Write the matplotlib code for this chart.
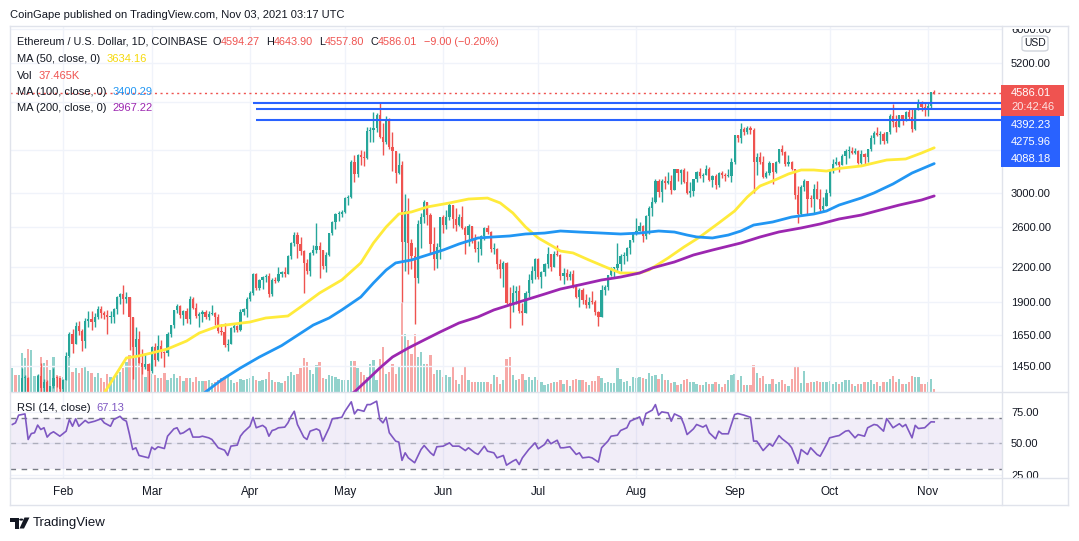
import numpy as np
import pandas as pd
import matplotlib
matplotlib.use("Agg")
import matplotlib.pyplot as plt
import matplotlib.dates as mdates
from matplotlib.patches import Rectangle, FancyBboxPatch, Polygon, Circle
from matplotlib.lines import Line2D
from matplotlib.ticker import NullLocator

# ---- daily ETH/USD (Coinbase), 2021-01-16 .. 2021-11-03 ----
start_date = "2021-01-16"
first_open = 1171.0
close = [
    1233, 1230, 1256, 1377, 1381, 1120, 1233, 1234, 1391, 1324, 1357, 1253, 1331, 1380, 1378, 1314,  # Jan
    1369, 1515, 1660, 1594, 1718, 1677, 1614, 1750, 1769, 1744, 1783, 1842, 1813, 1801, 1780, 1782,
    1847, 1937, 1960, 1920, 1935, 1780, 1570, 1626, 1470, 1446, 1460, 1417,  # Feb
    1570, 1490, 1575, 1540, 1533, 1660, 1722, 1834, 1870, 1795, 1825, 1770, 1923, 1855, 1792, 1805,
    1824, 1779, 1808, 1810, 1780, 1680, 1670, 1582, 1590, 1702, 1715, 1690, 1818, 1846, 1920,  # Mar
    1970, 2134, 2010, 2080, 2110, 2117, 1960, 2085, 2070, 2140, 2155, 2140, 2300, 2430, 2515, 2420,
    2350, 2235, 2160, 2330, 2360, 2400, 2360, 2210, 2310, 2535, 2660, 2750, 2755, 2775,  # Apr
    2945, 2950, 3430, 3250, 3525, 3490, 3480, 3900, 3910, 3950, 4170, 3810, 3720, 4080, 3640, 3590,
    3270, 3380, 2440, 2780, 2430, 2300, 2100, 2640, 2710, 2890, 2740, 2420, 2280, 2390, 2710,  # May
    2630, 2710, 2860, 2690, 2630, 2710, 2590, 2515, 2610, 2470, 2370, 2370, 2510, 2590, 2550, 2370,
    2370, 2230, 2180, 2240, 1890, 1875, 1970, 1990, 1830, 1815, 1975, 2080, 2160, 2275,  # Jun
    2110, 2150, 2225, 2320, 2200, 2325, 2315, 2115, 2145, 2110, 2140, 2035, 1940, 1995, 1915, 1875,
    1900, 1895, 1820, 1785, 1995, 2025, 2125, 2190, 2190, 2230, 2300, 2300, 2380, 2460, 2535,  # Jul
    2555, 2610, 2505, 2725, 2825, 2890, 3155, 3015, 3165, 3140, 3165, 3045, 3320, 3265, 3310, 3145,
    3010, 3030, 3180, 3285, 3225, 3240, 3320, 3170, 3230, 3110, 3270, 3245, 3225, 3225, 3430,  # Aug
    3830, 3790, 3940, 3890, 3950, 3925, 3430, 3495, 3425, 3210, 3265, 3410, 3285, 3430, 3610, 3570,
    3400, 3430, 3330, 2975, 2750, 3080, 3155, 2930, 2925, 3060, 2930, 2810, 2850, 3000,  # Sep
    3310, 3390, 3420, 3385, 3515, 3580, 3590, 3560, 3580, 3410, 3545, 3490, 3610, 3790, 3870, 3830,
    3850, 3745, 3880, 4160, 4055, 3970, 4170, 4085, 4220, 4130, 3930, 4290, 4415, 4320, 4290,  # Oct
    4325, 4594.27, 4586.01,  # Nov
]
high = [
    1260, 1260, 1260, 1440, 1395, 1385, 1250, 1260, 1400, 1470, 1370, 1365, 1335, 1440, 1390, 1380,
    1375, 1540, 1670, 1695, 1743, 1755, 1698, 1775, 1825, 1827, 1815, 1870, 1870, 1825, 1833, 1831,
    1855, 1950, 1970, 2042, 1977, 1937, 1781, 1711, 1680, 1560, 1530, 1470,
    1575, 1600, 1650, 1620, 1545, 1675, 1725, 1835, 1880, 1878, 1838, 1850, 1947, 1935, 1890, 1820,
    1835, 1838, 1830, 1875, 1820, 1808, 1728, 1740, 1623, 1710, 1735, 1720, 1840, 1853, 1940,
    1985, 2145, 2145, 2090, 2120, 2135, 2145, 2100, 2105, 2197, 2160, 2203, 2315, 2449, 2545, 2545,
    2500, 2360, 2280, 2340, 2410, 2645, 2440, 2365, 2340, 2540, 2675, 2760, 2790, 2800,
    2950, 2985, 3455, 3530, 3540, 3600, 3580, 3975, 3965, 4220, 4200, 4380, 4040, 4150, 4120, 3890,
    3590, 3560, 3440, 2990, 2940, 2480, 2390, 2680, 2760, 2915, 2895, 2765, 2600, 2430, 2720,
    2740, 2800, 2890, 2860, 2815, 2745, 2845, 2620, 2640, 2620, 2530, 2450, 2520, 2600, 2630, 2560,
    2430, 2380, 2280, 2260, 2250, 2020, 2040, 2035, 2040, 1890, 1990, 2140, 2205, 2285,
    2285, 2160, 2240, 2390, 2320, 2350, 2410, 2325, 2190, 2185, 2165, 2170, 2045, 2015, 2010, 1960,
    1935, 1990, 1915, 1830, 2040, 2040, 2130, 2200, 2200, 2430, 2320, 2340, 2395, 2470, 2550,
    2700, 2660, 2630, 2740, 2840, 2950, 3180, 3185, 3180, 3230, 3280, 3235, 3330, 3330, 3325, 3335,
    3290, 3150, 3190, 3290, 3335, 3275, 3375, 3355, 3245, 3250, 3285, 3290, 3270, 3330, 3475,
    3840, 3840, 4030, 3970, 3990, 3985, 3950, 3550, 3565, 3510, 3295, 3440, 3400, 3440, 3615, 3675,
    3590, 3530, 3440, 3330, 3100, 3110, 3180, 3160, 2975, 3115, 3160, 3050, 2950, 3050,
    3320, 3470, 3490, 3440, 3540, 3610, 3660, 3640, 3625, 3600, 3600, 3550, 3620, 3830, 3900, 3960,
    3900, 3890, 3890, 4190, 4375, 4170, 4180, 4180, 4235, 4300, 4300, 4300, 4460, 4420, 4390,
    4380, 4600, 4643.90,
]
low = [
    1150, 1170, 1190, 1240, 1285, 1100, 1030, 1170, 1230, 1290, 1250, 1225, 1230, 1320, 1330, 1300,
    1284, 1365, 1505, 1530, 1594, 1655, 1545, 1564, 1707, 1687, 1706, 1766, 1775, 1770, 1658, 1735,
    1741, 1808, 1880, 1807, 1893, 1550, 1370, 1511, 1468, 1400, 1433, 1293,
    1408, 1453, 1480, 1499, 1443, 1513, 1638, 1705, 1810, 1775, 1726, 1738, 1730, 1847, 1775, 1710,
    1743, 1770, 1757, 1800, 1726, 1667, 1649, 1568, 1546, 1588, 1670, 1672, 1680, 1800, 1780,
    1908, 1956, 2000, 1998, 2005, 2065, 1940, 1950, 2055, 2062, 2112, 2105, 2140, 2280, 2406, 2285,
    2312, 1970, 2140, 2120, 2310, 2330, 2100, 2180, 2150, 2300, 2520, 2580, 2665, 2720,
    2765, 2860, 2945, 3150, 3210, 3375, 3360, 3460, 3720, 3730, 3880, 3780, 3530, 3690, 3620, 3290,
    3140, 3250, 1900, 2160, 2140, 2180, 1730, 2060, 2385, 2645, 2630, 2320, 2170, 2190, 2280,
    2540, 2580, 2680, 2590, 2560, 2615, 2580, 2320, 2400, 2430, 2340, 2250, 2310, 2470, 2530, 2340,
    2320, 2180, 2100, 2020, 1880, 1700, 1820, 1880, 1810, 1725, 1810, 1935, 2060, 2090,
    2090, 2010, 2120, 2190, 2160, 2200, 2300, 2080, 2050, 2080, 2080, 2010, 1930, 1860, 1880, 1855,
    1855, 1880, 1800, 1715, 1780, 1955, 1995, 2120, 2110, 2160, 2160, 2225, 2260, 2320, 2440,
    2520, 2560, 2440, 2475, 2530, 2725, 2880, 2950, 2890, 3060, 3120, 2990, 3040, 3160, 3125, 3140,
    2990, 2950, 2965, 3150, 3200, 3150, 3235, 3160, 3080, 3060, 3080, 3200, 3160, 3220, 3150,
    3390, 3720, 3710, 3840, 3850, 3850, 3000, 3240, 3400, 3200, 3200, 3240, 3120, 3270, 3410, 3520,
    3360, 3370, 3310, 2935, 2650, 2740, 3030, 2740, 2830, 2745, 2930, 2780, 2790, 2840,
    2970, 3270, 3375, 3280, 3380, 3400, 3480, 3540, 3540, 3400, 3400, 3380, 3420, 3590, 3700, 3820,
    3700, 3690, 3710, 3850, 3970, 3890, 3960, 4000, 4070, 4110, 3890, 3920, 4260, 4250, 4150,
    4150, 4300, 4557.80,
]
# volume, thousands of ETH
volume = [
    290, 205, 205, 470, 410, 515, 505, 190, 205, 420, 350, 385, 265, 420, 205, 190,
    180, 420, 420, 240, 290, 230, 290, 310, 250, 230, 180, 230, 170, 120, 215, 180,
    180, 205, 240, 290, 360, 445, 540, 420, 360, 300, 180, 265,
    215, 205, 170, 170, 230, 145, 170, 215, 170, 190, 130, 170, 170, 120, 180, 130,
    130, 130, 145, 110, 120, 145, 170, 180, 190, 145, 110, 120, 155, 145, 155,
    170, 190, 145, 130, 145, 155, 240, 145, 120, 120, 110, 130, 190, 240, 205, 215,
    290, 410, 360, 265, 215, 325, 360, 170, 155, 205, 190, 180, 155, 145,
    145, 145, 370, 370, 290, 240, 205, 180, 335, 385, 145, 395, 540, 215, 240, 335,
    215, 300, 1080, 695, 625, 455, 695, 420, 480, 335, 335, 445, 215, 265, 265,
    180, 205, 180, 300, 145, 95, 205, 300, 145, 120, 120, 120, 120, 120, 120, 95,
    205, 180, 95, 145, 395, 420, 205, 145, 155, 215, 145, 180, 145, 180,
    145, 120, 85, 95, 110, 120, 120, 145, 95, 145, 70, 145, 155, 145, 145, 120,
    85, 130, 130, 190, 170, 110, 120, 110, 110, 290, 155, 120, 130, 70, 180,
    170, 180, 170, 155, 230, 190, 205, 155, 215, 145, 145, 110, 120, 85, 95, 145,
    155, 120, 120, 95, 85, 85, 120, 95, 95, 120, 95, 60, 95, 145, 205,
    215, 145, 190, 85, 85, 85, 325, 230, 170, 190, 95, 95, 155, 95, 120, 145,
    95, 70, 155, 300, 300, 110, 250, 110, 120, 120, 130, 120, 120, 120,
    130, 95, 120, 95, 120, 145, 145, 95, 70, 95, 95, 120, 120, 145, 95, 120,
    70, 120, 120, 155, 190, 120, 155, 95, 95, 120, 190, 180, 180, 95, 95,
    120, 155, 37.465,
]

# moving averages
ma50_dates = ["02-12", "02-21", "02-25", "03-01", "03-06", "03-12", "03-16", "03-22", "03-27", "04-01",
              "04-06", "04-13", "04-17", "04-23", "04-30", "05-06", "05-10", "05-14", "05-18", "05-22",
              "05-27", "06-03", "06-09", "06-15", "06-19", "06-23", "06-27", "07-01", "07-06", "07-08",
              "07-12", "07-17", "07-23", "07-27", "08-02", "08-05", "08-11", "08-16", "08-21", "08-27",
              "09-01", "09-05", "09-09", "09-13", "09-18", "09-22", "09-26", "09-30", "10-04", "10-11",
              "10-15", "10-19", "10-25", "10-30", "11-03"]
ma50_vals = [1240, 1500, 1513, 1532, 1558, 1611, 1666, 1716, 1731, 1745,
             1775, 1790, 1859, 1972, 2083, 2238, 2434, 2604, 2750, 2774,
             2833, 2881, 2929, 2941, 2881, 2762, 2604, 2486, 2393, 2353,
             2334, 2266, 2191, 2145, 2145, 2172, 2285, 2393, 2496, 2648,
             2785, 2954, 3094, 3160, 3255, 3310, 3310, 3295, 3332, 3366,
             3409, 3452, 3467, 3555, 3634.16]
ma100_dates = ["03-16", "03-18", "03-23", "03-29", "04-04", "04-11", "04-16", "04-21", "04-26", "04-30",
               "05-06", "05-10", "05-14", "05-17", "05-22", "05-27", "06-01", "06-06", "06-12", "06-17",
               "06-22", "06-27", "07-03", "07-08", "07-14", "07-21", "07-27", "08-02", "08-08", "08-13",
               "08-17", "08-20", "08-25", "08-30", "09-03", "09-07", "09-13", "09-19", "09-26", "09-30",
               "10-04", "10-11", "10-15", "10-21", "10-27", "11-03"]
ma100_vals = [1270, 1300, 1367, 1438, 1506, 1580, 1650, 1723, 1775, 1836,
              1939, 2057, 2172, 2238, 2266, 2314, 2363, 2424, 2486, 2497,
              2507, 2528, 2538, 2560, 2549, 2538, 2528, 2538, 2560, 2549,
              2517, 2497, 2486, 2517, 2560, 2625, 2659, 2715, 2750, 2785,
              2856, 2942, 3005, 3121, 3268, 3400.29]
ma200_dates = ["05-02", "05-04", "05-09", "05-12", "05-16", "05-21", "05-26", "05-31", "06-06", "06-12",
               "06-17", "06-22", "06-27", "07-03", "07-08", "07-14", "07-21", "07-27", "08-02", "08-06",
               "08-13", "08-19", "08-25", "09-03", "09-09", "09-15", "09-22", "09-28", "10-04", "10-11",
               "10-17", "10-23", "10-30", "11-03"]
ma200_vals = [1280, 1300, 1384, 1438, 1506, 1564, 1618, 1673, 1738, 1783,
              1836, 1875, 1915, 1963, 2005, 2040, 2083, 2109, 2145, 2191,
              2247, 2314, 2363, 2434, 2496, 2550, 2593, 2637, 2693, 2738,
              2797, 2856, 2917, 2967.22]

rsi_day = [0, 1, 2, 4, 5, 6, 7, 8, 9, 10, 11, 12, 13, 15, 17, 18, 19, 20, 21, 23, 24, 26, 28, 29, 31,
           32, 34, 35, 36, 37, 38, 39, 40, 42, 43, 44, 45, 46, 48, 49, 51, 52, 53, 54, 56, 57, 59, 60,
           62, 63, 65, 67, 68, 69, 71, 72, 73, 75, 76, 77, 79, 80, 81, 82, 83, 84, 86, 87, 88, 89, 90,
           92, 93, 94, 96, 97, 98, 100, 101, 103, 104, 105, 107, 108, 109, 111, 112, 113, 115, 116,
           117, 118, 119, 121, 122, 123, 124, 125, 127, 129, 130, 132, 133, 134, 136, 138, 139, 141,
           143, 144, 146, 147, 149, 150, 152, 153, 155, 156, 158, 159, 160, 161, 163, 165, 166, 168,
           169, 170, 172, 173, 174, 176, 178, 179, 180, 182, 183, 185, 186, 188, 189, 191, 192, 194,
           195, 198, 199, 200, 202, 203, 204, 205, 207, 208, 209, 211, 212, 213, 215, 216, 218, 219,
           220, 222, 223, 224, 226, 228, 229, 231, 233, 234, 235, 237, 239, 240, 242, 243, 245, 246,
           248, 249, 251, 252, 254, 255, 257, 258, 260, 261, 263, 264, 266, 267, 269, 270, 272, 273,
           275, 276, 278, 280, 281, 282, 284, 285, 286, 288, 290, 291]
rsi_val = [65.1, 66.4, 72.5, 73.5, 53.2, 57.9, 58.5, 64.6, 61.1, 62.5, 55.1, 57.9, 59.3, 55.8, 59.8,
           69.0, 63.7, 69.6, 63.7, 68.3, 66.4, 67.7, 69.6, 66.4, 63.7, 69.0, 71.6, 69.0, 67.7, 57.1,
           45.2, 46.6, 40.5, 39.2, 38.6, 47.1, 45.2, 47.4, 46.0, 55.8, 61.6, 62.5, 57.7, 58.5, 61.9,
           55.1, 55.1, 55.8, 54.5, 53.2, 46.6, 44.7, 40.5, 47.9, 48.7, 55.8, 59.0, 63.7, 70.8, 62.5,
           64.4, 62.5, 55.8, 60.3, 61.1, 62.5, 63.0, 66.4, 71.6, 75.6, 65.1, 55.1, 53.2, 59.8, 61.6,
           60.3, 51.9, 62.5, 69.6, 70.4, 70.8, 75.6, 83.1, 73.5, 76.9, 75.6, 80.9, 80.9, 83.6, 69.0,
           66.4, 70.8, 58.5, 51.9, 51.1, 36.6, 42.6, 38.6, 34.7, 45.2, 48.4, 42.6, 40.5, 47.4, 47.9,
           50.5, 47.9, 47.9, 44.4, 46.6, 42.6, 41.3, 47.9, 43.9, 42.6, 38.6, 40.5, 32.8, 36.0, 37.3,
           33.3, 38.6, 45.2, 50.5, 45.8, 49.2, 53.2, 49.8, 52.6, 46.6, 46.6, 47.4, 41.3, 42.6, 38.6,
           39.2, 38.6, 35.2, 46.6, 51.9, 55.8, 56.6, 60.3, 62.5, 67.7, 71.1, 64.6, 73.8, 76.5, 80.9,
           72.5, 75.1, 74.3, 67.7, 73.5, 71.1, 65.1, 57.1, 61.6, 65.1, 63.0, 64.6, 58.5, 53.7, 59.8,
           57.7, 57.7, 73.0, 73.8, 72.5, 70.8, 51.9, 51.9, 44.4, 49.8, 47.9, 56.3, 53.7, 49.8, 46.6,
           34.2, 45.2, 41.3, 46.6, 41.3, 39.9, 49.2, 54.5, 55.8, 56.3, 59.8, 60.3, 54.5, 57.1, 55.8,
           62.5, 65.1, 64.6, 59.8, 69.8, 62.5, 65.7, 63.3, 65.1, 54.5, 64.4, 61.9, 62.5, 67.2, 67.13]

level_vals = [4392.23, 4275.96, 4088.18]
level_start = ["2021-04-02", "2021-04-03", "2021-04-03"]
months = ["Feb", "Mar", "Apr", "May", "Jun", "Jul", "Aug", "Sep", "Oct", "Nov"]
price_ticks = [1450, 1650, 1900, 2200, 2600, 3000, 3600, 4400, 5200, 6000]
change_text = "\u22129.00 (\u22120.20%)"
countdown = "20:42:46"

# ---------------------------------------------------------------
plt.rcParams['font.family'] = ['Liberation Sans', 'DejaVu Sans']
TXT = '#131722'
UP, DOWN = '#26a69a', '#ef5350'
BORDER = '#e0e3eb'
GRID = '#f0f3fa'
W, H = 1079, 541

fig = plt.figure(figsize=(W / 100, H / 100), dpi=100)


def rect(x0, y0, x1, y1):
    return [x0 / W, 1 - y1 / H, (x1 - x0) / W, (y1 - y0) / H]


def fpt(x, y):
    return x / W, 1 - y / H


c = np.array(close, float)
o = np.r_[first_open, c[:-1]]
hi = np.maximum(np.array(high, float), np.maximum(o, c))
lo = np.minimum(np.array(low, float), np.minimum(o, c))
up = c >= o
dates = pd.date_range(start_date, periods=len(c), freq="D")
xd = mdates.date2num(dates)
xlim = (xd[0] - 0.73, xd[0] + 312.4)
month_x = mdates.date2num(pd.to_datetime(["2021-%02d-01" % m for m in range(2, 12)]))

ax_vol = fig.add_axes(rect(10, 26, 1002, 392))
ax = fig.add_axes(rect(10, 26, 1002, 392))
ax_rsi = fig.add_axes(rect(10, 392, 1002, 478))
ax.set_zorder(1)
ax.patch.set_visible(False)

# volume
vcol = np.where(up, '#92d2cc', '#f7a9a7')
ax_vol.bar(xd, volume, width=0.72, color=vcol, linewidth=0)
ax_vol.set_xlim(*xlim)
ax_vol.set_ylim(0, 4392)
ax_vol.axis('off')

# price pane
ax.set_yscale('log')
ax.set_xlim(*xlim)
ax.set_ylim(1299.7, 6069)
ax.set_yticks(price_ticks)
ax.set_yticklabels(['' if t in (3600, 4400) else '%.2f' % t for t in price_ticks])
ax.yaxis.set_minor_locator(NullLocator())
ax.yaxis.tick_right()
ax.set_xticks(month_x)
ax.set_xticklabels([])
ax.tick_params(length=0, labelsize=8, labelcolor=TXT, pad=6.5)
ax.grid(True, color=GRID, lw=1)
ax.set_axisbelow(True)
for s in ax.spines.values():
    s.set_visible(False)

cols = np.where(up, UP, DOWN)
ax.vlines(xd, lo, hi, colors=cols, lw=1, zorder=2)
ax.bar(xd, np.maximum(np.abs(c - o), c * 0.004), bottom=np.minimum(o, c),
       width=0.7, color=cols, linewidth=0, zorder=3)

for d, v, col in [(ma50_dates, ma50_vals, '#ffeb3b'),
                  (ma100_dates, ma100_vals, '#2196f3'),
                  (ma200_dates, ma200_vals, '#9c27b0')]:
    mx = mdates.date2num(pd.to_datetime(["2021-" + s for s in d]))
    ax.plot(mx, v, color=col, lw=2, zorder=4, solid_capstyle='round')

for v, s in zip(level_vals, level_start):
    ax.hlines(v, mdates.date2num(pd.Timestamp(s)), xlim[1], color='#2962ff', lw=1.5, zorder=5)
ax.axhline(c[-1], color=DOWN, lw=1, ls=(0, (1.5, 2.5)), zorder=5)

# RSI pane
ax_rsi.set_xlim(*xlim)
ax_rsi.set_ylim(22.6, 90.9)
ax_rsi.axhspan(30, 70, color='#7e57c2', alpha=0.1, lw=0)
ax_rsi.axhline(70, color='#787b86', lw=1, ls=(0, (4, 4)))
ax_rsi.axhline(30, color='#787b86', lw=1, ls=(0, (4, 4)))
ax_rsi.axhline(50, color='#787b86', lw=1, ls=(0, (4, 4)), alpha=0.5)
rx = xd[0] + np.array(rsi_day)
ax_rsi.plot(rx, rsi_val, color='#7e57c2', lw=1.2, zorder=3)
ax_rsi.set_yticks([25, 50, 75])
ax_rsi.set_yticklabels(['25.00', '50.00', '75.00'])
ax_rsi.yaxis.tick_right()
ax_rsi.set_xticks(month_x)
ax_rsi.set_xticklabels(months)
ax_rsi.tick_params(axis='y', length=0, labelsize=8, labelcolor=TXT, pad=6.5)
ax_rsi.tick_params(axis='x', length=0, labelsize=8.5, labelcolor=TXT, pad=6)
ax_rsi.grid(True, color=GRID, lw=1)
ax_rsi.set_axisbelow(True)
for s in ax_rsi.spines.values():
    s.set_visible(False)

# covers for clipped axis labels
fig.add_artist(Rectangle(fpt(1002, 28.5), 77 / W, 28.5 / H, transform=fig.transFigure,
                         facecolor='white', edgecolor='none', zorder=6))
fig.add_artist(Rectangle(fpt(1002, 505), 66 / W, 27 / H, transform=fig.transFigure,
                         facecolor='white', edgecolor='none', zorder=6))

# frame lines
for (x0, y0, x1, y1) in [(10, 26, 1068, 26), (10, 505, 1068, 505), (10, 26, 10, 505),
                         (1068, 26, 1068, 505), (1002, 26, 1002, 505),
                         (10, 392, 1068, 392), (10, 478, 1068, 478)]:
    p0, p1 = fpt(x0, y0), fpt(x1, y1)
    fig.add_artist(Line2D([p0[0], p1[0]], [p0[1], p1[1]], transform=fig.transFigure,
                          color=BORDER, lw=1, zorder=7))

# price axis labels
fig.add_artist(FancyBboxPatch(fpt(1022, 51), 26 / W, 15 / H, boxstyle="round,pad=0,rounding_size=0.004",
                              transform=fig.transFigure, facecolor='white', edgecolor='#d1d4dc',
                              lw=1, zorder=8))
fig.text(*fpt(1035, 43.5), "USD", fontsize=7.5, color=TXT, ha='center', va='center', zorder=9)
fig.add_artist(Rectangle(fpt(1001, 116), 63 / W, 31 / H, transform=fig.transFigure,
                         facecolor=DOWN, edgecolor='none', zorder=8))
fig.text(*fpt(1011, 93), "%.2f" % c[-1], fontsize=8, color='white', va='center', zorder=9)
fig.text(*fpt(1011, 107.5), countdown, fontsize=8, color='#fde3e2', va='center', zorder=9)
fig.add_artist(Rectangle(fpt(1001, 167), 59 / W, 51 / H, transform=fig.transFigure,
                         facecolor='#2962ff', edgecolor='none', zorder=8))
for v, yy in zip(level_vals, [125, 142, 159]):
    fig.text(*fpt(1011, yy), "%.2f" % v, fontsize=8, color='white', va='center', zorder=9)


def legend_row(x, y, parts, size=8):
    """Write text pieces one after another; parts = (text, colour, gap in px)."""
    first_txt, first_col, _ = parts[0]
    prev = fig.text(*fpt(x, y), first_txt, fontsize=size, color=first_col, va='center', zorder=9)
    for txt, col, gap in parts[1:]:
        prev = ax.annotate(txt, xy=(1, 0.5), xycoords=prev, xytext=(gap * 0.72, 0),
                           textcoords='offset points', va='center', ha='left', fontsize=size,
                           color=col, annotation_clip=False, zorder=9)


fig.text(*fpt(10, 15), "CoinGape published on TradingView.com, Nov 03, 2021 03:17 UTC",
         fontsize=8, color=TXT, va='center')
legend_row(17, 42, [("Ethereum / U.S. Dollar, 1D, COINBASE", TXT, 0),
                    ("O", TXT, 5), ("%.2f" % o[-1], DOWN, 0),
                    ("H", TXT, 6), ("%.2f" % hi[-1], DOWN, 0),
                    ("L", TXT, 6), ("%.2f" % lo[-1], DOWN, 0),
                    ("C", TXT, 6), ("%.2f" % c[-1], DOWN, 0),
                    (change_text, DOWN, 6)], size=7.8)
legend_row(17, 59, [("MA (50, close, 0)", TXT, 0), ("%.2f" % ma50_vals[-1], '#f5d90a', 6)])
legend_row(17, 76, [("Vol", TXT, 0), ("%.3fK" % volume[-1], DOWN, 6)])
legend_row(17, 92, [("MA (100, close, 0)", TXT, 0), ("%.2f" % ma100_vals[-1], '#2196f3', 6)])
legend_row(17, 108, [("MA (200, close, 0)", TXT, 0), ("%.2f" % ma200_vals[-1], '#9c27b0', 6)])
legend_row(17, 408, [("RSI (14, close)", TXT, 0), ("%.2f" % rsi_val[-1], '#7e57c2', 6)])

# TradingView logo
logo = '#131722'
fig.add_artist(Polygon([fpt(10, 517.5), fpt(18.5, 517.5), fpt(18.5, 528.5), fpt(14.5, 528.5),
                        fpt(14.5, 521.5), fpt(10, 521.5)], closed=True, transform=fig.transFigure,
                       facecolor=logo, edgecolor='none'))
fig.add_artist(Circle(fpt(21.3, 519.6), 2.1 / W, transform=fig.transFigure, facecolor=logo, edgecolor='none'))
fig.add_artist(Polygon([fpt(24.5, 517.5), fpt(29.5, 517.5), fpt(24, 528.5), fpt(19.5, 528.5)],
                       closed=True, transform=fig.transFigure, facecolor=logo, edgecolor='none'))
fig.text(*fpt(33, 523), "TradingView", fontsize=9.5, color=TXT, va='center')

fig.savefig("out.png", dpi=100, facecolor='white')
